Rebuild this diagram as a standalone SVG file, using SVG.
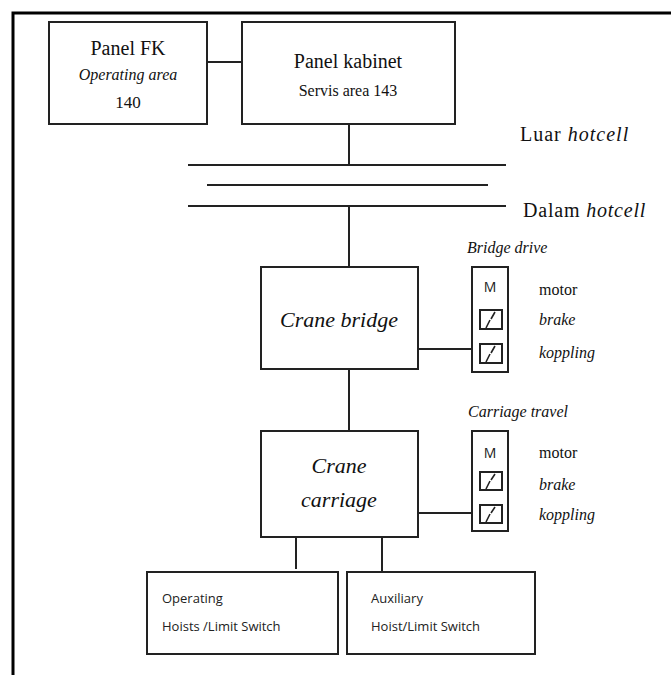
<svg xmlns="http://www.w3.org/2000/svg" width="671" height="675" viewBox="0 0 671 675">
<style>
.box{fill:#fff;stroke:#222;stroke-width:2}
.ln{stroke:#222;stroke-width:2;fill:none}
.fr{stroke:#000;stroke-width:3;fill:none}
.sw{stroke:#222;stroke-width:1.6;fill:none}
.s{fill:#111}
.i{font-style:italic}
.c{fill:#222}
.mid{text-anchor:middle}
</style>
<rect width="671" height="675" fill="#fff"/>
<g id="frame"><path class="fr" d="M13 675 V13 H671"/></g>
<g id="connectors">
<line class="ln" x1="207" y1="62" x2="242" y2="62"/>
<line class="ln" x1="349" y1="124" x2="349" y2="165"/>
<line class="ln" x1="188" y1="165" x2="506" y2="165"/>
<line class="ln" x1="207" y1="185" x2="488" y2="185"/>
<line class="ln" x1="188" y1="206" x2="506" y2="206"/>
<line class="ln" x1="349" y1="206" x2="349" y2="267"/>
<line class="ln" x1="349" y1="369" x2="349" y2="431"/>
<line class="ln" x1="418" y1="349" x2="472" y2="349"/>
<line class="ln" x1="418" y1="513" x2="472" y2="513"/>
<line class="ln" x1="296" y1="537" x2="296" y2="569"/>
<line class="ln" x1="382" y1="537" x2="382" y2="572"/>
</g>
<g font-family="Liberation Serif, Times New Roman, serif">
<g id="panel-fk">
<rect class="box" x="49" y="22" width="158" height="102"/>
<text class="s mid" x="128" y="55" font-size="20">Panel FK</text>
<text class="s i mid" x="128" y="80" font-size="16">Operating area</text>
<text class="s mid" x="128" y="108" font-size="17">140</text>
</g>
<g id="panel-kabinet">
<rect class="box" x="242" y="22" width="213" height="102"/>
<text class="s mid" x="348" y="68" font-size="20">Panel kabinet</text>
<text class="s mid" x="348" y="96" font-size="16">Servis area 143</text>
</g>
<g id="luar"><text class="s" x="520" y="141" font-size="20" letter-spacing="1">Luar <tspan class="i">hotcell</tspan></text></g>
<g id="dalam"><text class="s" x="523" y="217" font-size="20" letter-spacing="0.8">Dalam <tspan class="i">hotcell</tspan></text></g>
<g id="crane-bridge">
<rect class="box" x="261" y="267" width="157" height="102"/>
<text class="s i mid" x="339" y="327" font-size="22">Crane bridge</text>
</g>
<g id="crane-carriage">
<rect class="box" x="261" y="431" width="157" height="106"/>
<text class="s i mid" x="339" y="473" font-size="22">Crane</text>
<text class="s i mid" x="339" y="507" font-size="22">carriage</text>
</g>
<g id="bridge-drive">
<text class="s i" x="467" y="253" font-size="16">Bridge drive</text>
<rect class="box" x="472" y="267" width="36" height="105"/>
<text class="c mid" x="490" y="292" font-size="14" fill="#2a2a5a" font-family="Open Sans, Liberation Sans, sans-serif">M</text>
<rect class="box" x="480" y="310" width="22" height="19"/>
<path class="sw" d="M486 328 L490 320 M491 319 L495 312"/>
<rect class="box" x="480" y="344" width="22" height="19"/>
<path class="sw" d="M486 362 L490 354 M491 353 L495 346"/>
<text class="s" x="539" y="295" font-size="16">motor</text>
<text class="s i" x="539" y="325" font-size="16">brake</text>
<text class="s i" x="539" y="358" font-size="16">koppling</text>
</g>
<g id="carriage-travel">
<text class="s i" x="468" y="417" font-size="16">Carriage travel</text>
<rect class="box" x="472" y="431" width="36" height="100"/>
<text class="c mid" x="490" y="458" font-size="14" fill="#2a2a5a" font-family="Open Sans, Liberation Sans, sans-serif">M</text>
<rect class="box" x="480" y="472" width="22" height="18"/>
<path class="sw" d="M486 489 L490 481 M491 480 L495 474"/>
<rect class="box" x="480" y="505" width="22" height="18"/>
<path class="sw" d="M486 522 L490 514 M491 513 L495 507"/>
<text class="s" x="539" y="458" font-size="16">motor</text>
<text class="s i" x="539" y="490" font-size="16">brake</text>
<text class="s i" x="539" y="520" font-size="16">koppling</text>
</g>
</g>
<g font-family="Open Sans, Liberation Sans, sans-serif">
<g id="operating-hoists">
<rect class="box" x="147" y="572" width="191" height="82"/>
<text class="c" x="162" y="603" font-size="13">Operating</text>
<text class="c" x="162" y="631" font-size="13">Hoists /Limit Switch</text>
</g>
<g id="auxiliary-hoist">
<rect class="box" x="347" y="572" width="188" height="82"/>
<text class="c" x="371" y="603" font-size="13">Auxiliary</text>
<text class="c" x="371" y="631" font-size="13">Hoist/Limit Switch</text>
</g>
</g>
</svg>
